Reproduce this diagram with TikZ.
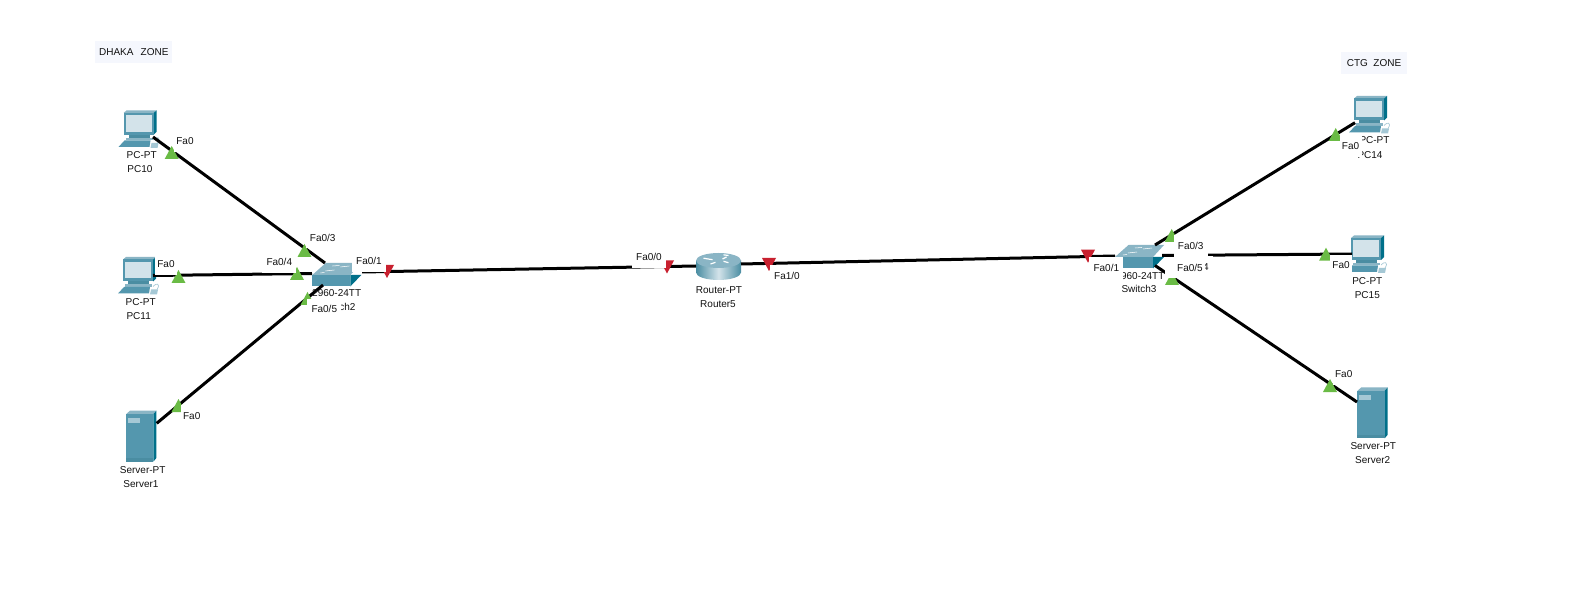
\documentclass[tikz,border=0pt]{standalone}
\usepackage{fontspec}
\setmainfont{Liberation Sans}
\definecolor{frontc}{HTML}{5497AE}
\definecolor{topc}{HTML}{8AB5C5}
\definecolor{sidec}{HTML}{00708A}
\definecolor{screenc}{HTML}{D3E3EA}
\definecolor{slotc}{HTML}{A5C8D5}
\definecolor{bandc}{HTML}{4A8DA2}
\definecolor{portgreen}{HTML}{6ABB45}
\definecolor{portred}{HTML}{C8202F}
\definecolor{zonebg}{HTML}{F5F7FD}
\definecolor{labelc}{HTML}{111111}
\tikzset{
  x=0.75pt,y=-0.75pt,
  link/.style={draw=black,line width=2.25pt},
  devlabel/.style={font=\fontsize{7.5}{9}\selectfont,text=labelc,inner sep=0pt},
  portbase/.style={font=\fontsize{7.5}{9}\selectfont,text=labelc,fill=white,inner sep=0pt,minimum height=16pt},
  shortport/.style={portbase,minimum width=16.5pt},
  longport/.style={portbase,minimum width=25.5pt},
  zonetext/.style={font=\fontsize{7.5}{9}\selectfont,text=labelc,fill=zonebg,inner sep=0pt,minimum height=16pt},
  pics/upmark/.style={code={\fill[portgreen] (0,0) -- (7,13) -- (-7,13) -- cycle;}},
  pics/downmark/.style={code={\fill[portred] (0,0) -- (-7,-13) -- (7,-13) -- cycle;}},
  pics/pcicon/.style={code={
    \fill[topc] (0,0) -- (3,-2.5) -- (33,-2.5) -- (30,0) -- cycle;
    \fill[sidec] (30,0) -- (33,-2.5) -- (33,19) -- (30,22) -- cycle;
    \fill[frontc] (0,0) rectangle (30,22);
    \fill[screenc] (2,2.5) rectangle (28,19);
    \fill[bandc] (5,22) rectangle (26,25);
    \fill[topc] (2,25) rectangle (29,27.5);
    \fill[frontc] (1,27.5) -- (27,27.5) -- (26,34) -- (-5,34) -- cycle;
    \fill[slotc] (28,30) -- (35,30) -- (34,35) -- (27,35) -- cycle;
    \draw[slotc,line width=0.5pt] (30,27) .. controls (33,23) and (38,24) .. (34,30);
  }},
  pics/servericon/.style={code={
    \fill[topc] (0,0) -- (4,-3.7) -- (30.4,-3.7) -- (27.3,0) -- cycle;
    \fill[sidec] (27.3,0) -- (30.4,-3.7) -- (30.4,43.7) -- (27.3,47.4) -- cycle;
    \fill[frontc] (0,0) rectangle (27.3,47.4);
    \fill[slotc] (1.7,4) rectangle (14,8.7);
    \fill[bandc] (0,44) rectangle (27.3,47.4);
  }},
  pics/switchicon/.style={code={
    \fill[topc] (0,0) -- (13.5,-12) -- (49,-12) -- (38,0) -- cycle;
    \draw[white,line width=0.4pt] (13,-4) -- (22,-5) (28,-8) -- (37,-9) (20,-9) -- (27,-9.5) (8,-2) -- (12,-2.5);
    \fill[sidec] (38,0) -- (49,0) -- (38,11.5) -- cycle;
    \fill[frontc] (0,0) rectangle (38,11.5);
  }},
  pics/routericon/.style={code={
    \shade[left color=bandc,right color=bandc,middle color=screenc]
      (-22.5,0) -- (-22.5,12) arc[start angle=180,end angle=360,x radius=22.5,y radius=-7.5] -- (22.5,0) -- cycle;
    \fill[topc] (0,0) ellipse[x radius=22.5,y radius=7.5];
    \draw[white,line width=0.9pt] (-15,-2.3) -- (-6,-0.8) (5,-5.7) -- (10,-5) (5,0.8) -- (10,2.2) (-8,3.5) -- (-3,1.8) (4,-1.5) -- (8,-3.5);
  }},
}
\begin{document}
\begin{tikzpicture}
\useasboundingbox (0,0) rectangle (1591,609);
\fill[white] (0,0) rectangle (1591,609);

% device icons
\pic at (123.5,113) {pcicon};
\pic at (123,259.5) {pcicon};
\pic at (1354,98.5) {pcicon};
\pic at (1351,238) {pcicon};
\pic at (126,414.3) {servericon};
\pic at (1357.3,391) {servericon};
\pic at (312.3,275) {switchicon};
\pic at (1115,257) {switchicon};
\pic at (718.5,260.5) {routericon};

% connector ends
\coordinate (pc10) at (153,137);
\coordinate (pc11) at (153,275.5);
\coordinate (srv1) at (156.7,423.3);
\coordinate (sw2a) at (325,263);
\coordinate (sw2b) at (312,273.5);
\coordinate (sw2c) at (323,285);
\coordinate (sw2d) at (362,272);
\coordinate (rtw) at (696,266);
\coordinate (rte) at (741,264);
\coordinate (sw3w) at (1115,256);
\coordinate (sw3a) at (1155,245);
\coordinate (sw3b) at (1162,255.5);
\coordinate (sw3c) at (1155,265.5);
\coordinate (pc14) at (1355,122.7);
\coordinate (pc15) at (1352,254);
\coordinate (srv2) at (1357,402);

% connectors
\draw[link] (pc10) -- (sw2a);
\draw[link] (pc11) -- (sw2b);
\draw[link] (srv1) -- (sw2c);
\draw[link] (sw2d) -- (rtw);
\draw[link] (rte) -- (sw3w);
\draw[link] (sw3a) -- (pc14);
\draw[link] (sw3b) -- (pc15);
\draw[link] (sw3c) -- (srv2);

% device labels
\node[devlabel] (lpc10a) at (141.7,155) {PC-PT};
\node[devlabel] (lpc10b) at (140,169) {PC10};
\node[devlabel] (lpc11a) at (140.7,301.7) {PC-PT};
\node[devlabel] (lpc11b) at (138.7,316) {PC11};
\node[devlabel] (lsrv1a) at (142.7,470) {Server-PT};
\node[devlabel] (lsrv1b) at (141,484) {Server1};
\node[devlabel] (lsw2a) at (336.7,292.7) {2960-24TT};
\node[devlabel] (lsw2b) at (338,307) {Switch2};
\node[devlabel] (lrta) at (719,290) {Router-PT};
\node[devlabel] (lrtb) at (718,304) {Router5};
\node[devlabel] (lsw3a) at (1140,276) {2960-24TT};
\node[devlabel] (lsw3b) at (1139,289.3) {Switch3};
\node[devlabel] (lpc14a) at (1374.5,140) {PC-PT};
\node[devlabel] (lpc14b) at (1370,155) {PC14};
\node[devlabel] (lpc15a) at (1367.3,281) {PC-PT};
\node[devlabel] (lpc15b) at (1367.3,295) {PC15};
\node[devlabel] (lsrv2a) at (1373.3,446) {Server-PT};
\node[devlabel] (lsrv2b) at (1372.7,460) {Server2};

% port marks
\pic at (171.7,146) {upmark};
\pic at (178.5,270) {upmark};
\pic at (304.5,244) {upmark};
\pic at (297,267) {upmark};
\pic at (307.5,292) {upmark};
\pic at (178.5,399) {upmark};
\pic at (387,278) {downmark};
\pic at (667,273.5) {downmark};
\pic at (769,271) {downmark};
\pic at (1088,262.7) {downmark};
\pic at (1171.7,229) {upmark};
\pic at (1172,272) {upmark};
\pic at (1335.7,128) {upmark};
\pic at (1326,247.7) {upmark};
\pic at (1330,379) {upmark};

% port labels
\node[shortport] (p1) at (185,141) {Fa0};
\node[shortport] (p2) at (166,264) {Fa0};
\node[shortport] (p3) at (191.7,416) {Fa0};
\node[longport] (p4) at (322.7,237.7) {Fa0/3};
\node[longport] (p5) at (279.3,262.3) {Fa0/4};
\node[longport] (p6) at (369,261) {Fa0/1};
\node[longport] (p7) at (324.3,309.3) {Fa0/5};
\node[longport] (p8) at (649,257) {Fa0/0};
\node[longport] (p9) at (787,276) {Fa1/0};
\node[longport] (p10) at (1106.3,268) {Fa0/1};
\node[longport] (p11) at (1190.7,246) {Fa0/3};
\node[longport] (p12) at (1196,267) {Fa0/4};
\node[longport,minimum width=30pt] (p13) at (1185,267.5) {\hspace*{7.5pt}Fa0/5};
\node[shortport] (p14) at (1350.5,146) {Fa0};
\node[shortport] (p15) at (1341,265.3) {Fa0};
\node[shortport] (p16) at (1343.7,374) {Fa0};

% zone labels
\node[zonetext,minimum width=58pt] (dhaka) at (133.8,52) {DHAKA\ \ \,ZONE};
\node[zonetext,minimum width=49pt] (ctg) at (1374,63) {CTG\ \ ZONE};
\end{tikzpicture}
\end{document}
